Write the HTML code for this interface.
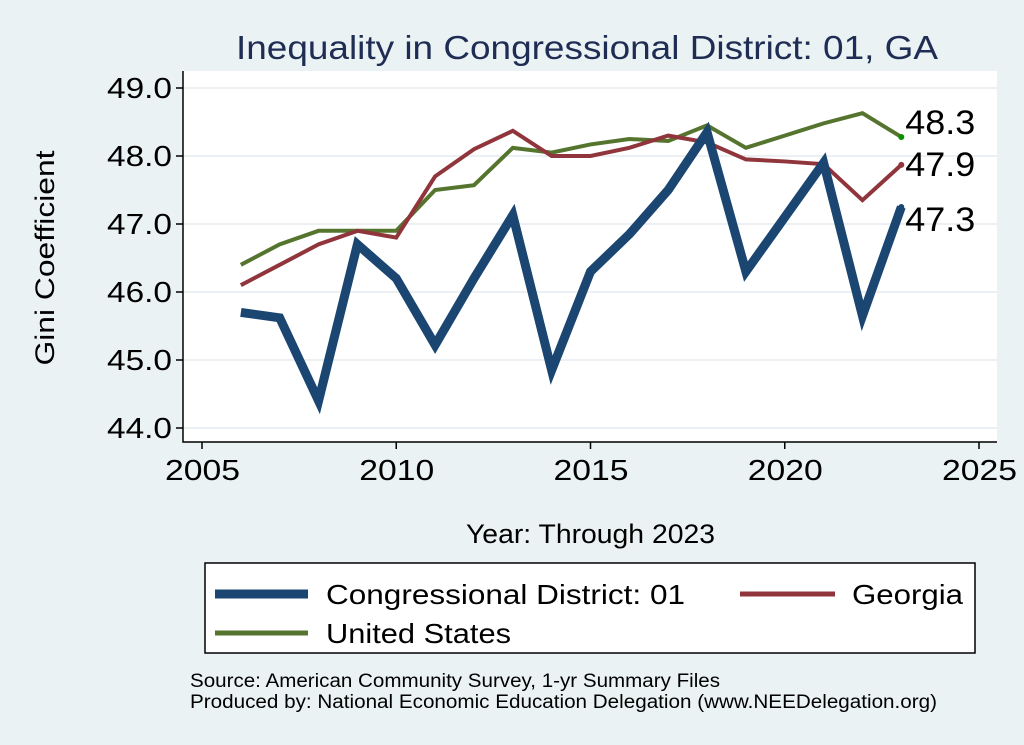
<!DOCTYPE html>
<html><head><meta charset="utf-8"><style>
body{margin:0;background:#eaf2f3;font-family:"Liberation Sans",Arial,sans-serif}
svg{display:block}
</style></head><body>
<svg width="1024" height="745" id="c">
<rect x="0" y="0" width="1024" height="745" fill="#eaf2f3"/>
<rect x="183" y="71" width="814" height="371" fill="#fff"/>
<text x="236" y="59" font-size="33" fill="#1f2d55" textLength="702" lengthAdjust="spacingAndGlyphs">Inequality in Congressional District:  01, GA</text>
<text transform="translate(54,258) rotate(-90)" font-size="27" text-anchor="middle" textLength="215" lengthAdjust="spacingAndGlyphs">Gini Coefficient</text>
<text x="466" y="543" font-size="27" textLength="249" lengthAdjust="spacingAndGlyphs">Year: Through 2023</text>
<g id="grid"></g><g id="axes"></g><g id="series"></g>
<rect x="205" y="563" width="770" height="90" fill="#fff" stroke="#000" stroke-width="1.5"/>
<g><line x1="215" y1="594" x2="308" y2="594" stroke="#1a4671" stroke-width="9"/><text x="326" y="604" font-size="28" textLength="359" lengthAdjust="spacingAndGlyphs">Congressional District:  01</text></g>
<g><line x1="740" y1="594" x2="835" y2="594" stroke="#90353b" stroke-width="5"/><text x="852" y="604" font-size="28" textLength="111" lengthAdjust="spacingAndGlyphs">Georgia</text></g>
<g><line x1="215" y1="633" x2="308" y2="633" stroke="#55752f" stroke-width="5"/><text x="326" y="643" font-size="28" textLength="185" lengthAdjust="spacingAndGlyphs">United States</text></g>
<text x="190" y="687" font-size="19" textLength="530" lengthAdjust="spacingAndGlyphs">Source: American Community Survey, 1-yr Summary Files</text>
<text x="190" y="708" font-size="19" textLength="747" lengthAdjust="spacingAndGlyphs">Produced by: National Economic Education Delegation (www.NEEDelegation.org)</text>
</svg>
<script>
const years=[2006,2007,2008,2009,2010,2011,2012,2013,2014,2015,2016,2017,2018,2019,2020,2021,2022,2023];
const cdValues=[45.7,45.62,44.4,46.7,46.2,45.22,46.2,47.13,44.85,46.3,46.85,47.5,48.35,46.3,47.1,47.9,45.65,47.25];
const gaValues=[46.1,46.4,46.7,46.9,46.8,47.7,48.1,48.37,48.0,48.0,48.12,48.3,48.2,47.95,47.92,47.88,47.35,47.87];
const usValues=[46.4,46.7,46.9,46.9,46.9,47.5,47.57,48.12,48.05,48.17,48.25,48.22,48.45,48.12,48.3,48.48,48.63,48.28];
const yTicks=[44,45,46,47,48,49];
const xTicks=[2005,2010,2015,2020,2025];
const endLabels=["47.3","47.9","48.3"];
const NS="http://www.w3.org/2000/svg";
const X=v=>202+(v-2005)*(979-202)/20;
const Y=v=>428-(v-44)*68;
function mk(t,a,p){const e=document.createElementNS(NS,t);for(const k in a)e.setAttribute(k,a[k]);p.appendChild(e);return e;}
const grid=document.getElementById('grid'),axes=document.getElementById('axes'),ser=document.getElementById('series');
yTicks.forEach(v=>{
 const g=mk('line',{x1:183,x2:997,y1:Y(v),y2:Y(v),stroke:'#e6ecee','stroke-width':1.5},grid);
 
 
 const t=mk('line',{x1:176,x2:183,y1:Y(v),y2:Y(v),stroke:'#000','stroke-width':1.5},axes);
 
 
 const l=mk('text',{x:172,y:Y(v)+10,'font-size':29,'text-anchor':'end',textLength:65,lengthAdjust:'spacingAndGlyphs'},axes);l.textContent=v.toFixed(1);
 
 
});
xTicks.forEach(v=>{
 const t=mk('line',{x1:X(v),x2:X(v),y1:442,y2:449,stroke:'#000','stroke-width':1.5},axes);
 
 
 const l=mk('text',{x:X(v)-37,y:480,'font-size':29,textLength:75,lengthAdjust:'spacingAndGlyphs'},axes);l.textContent=v;
 
 
});
const ax=mk('path',{d:'M183,71 V442 H997',fill:'none',stroke:'#000','stroke-width':1.5},axes);


function line(vals,color,w,name){
 const p=mk('polyline',{points:vals.map((v,i)=>X(years[i])+','+Y(v)).join(' '),fill:'none',stroke:color,'stroke-width':w,'stroke-linejoin':'miter'},ser);
 
 
}
line(usValues,'#55752f',4,'series-united-states');
line(gaValues,'#90353b',4,'series-georgia');
line(cdValues,'#1a4671',9,'series-cd01');
const last=years.length-1;
[[cdValues,'#1a4671',endLabels[0],22],[gaValues,'#90353b',endLabels[1],9],[usValues,'#089000',endLabels[2],-5]].forEach(([vals,c,lab,dy])=>{
 const d=mk('circle',{cx:X(years[last]),cy:Y(vals[last]),r:3,fill:c},ser);
 
 
 const t=mk('text',{x:X(years[last])+4,y:Y(vals[last])+dy+2,'font-size':34,textLength:70,lengthAdjust:'spacingAndGlyphs'},ser);t.textContent=lab;
 
 
});
</script>
</body></html>
